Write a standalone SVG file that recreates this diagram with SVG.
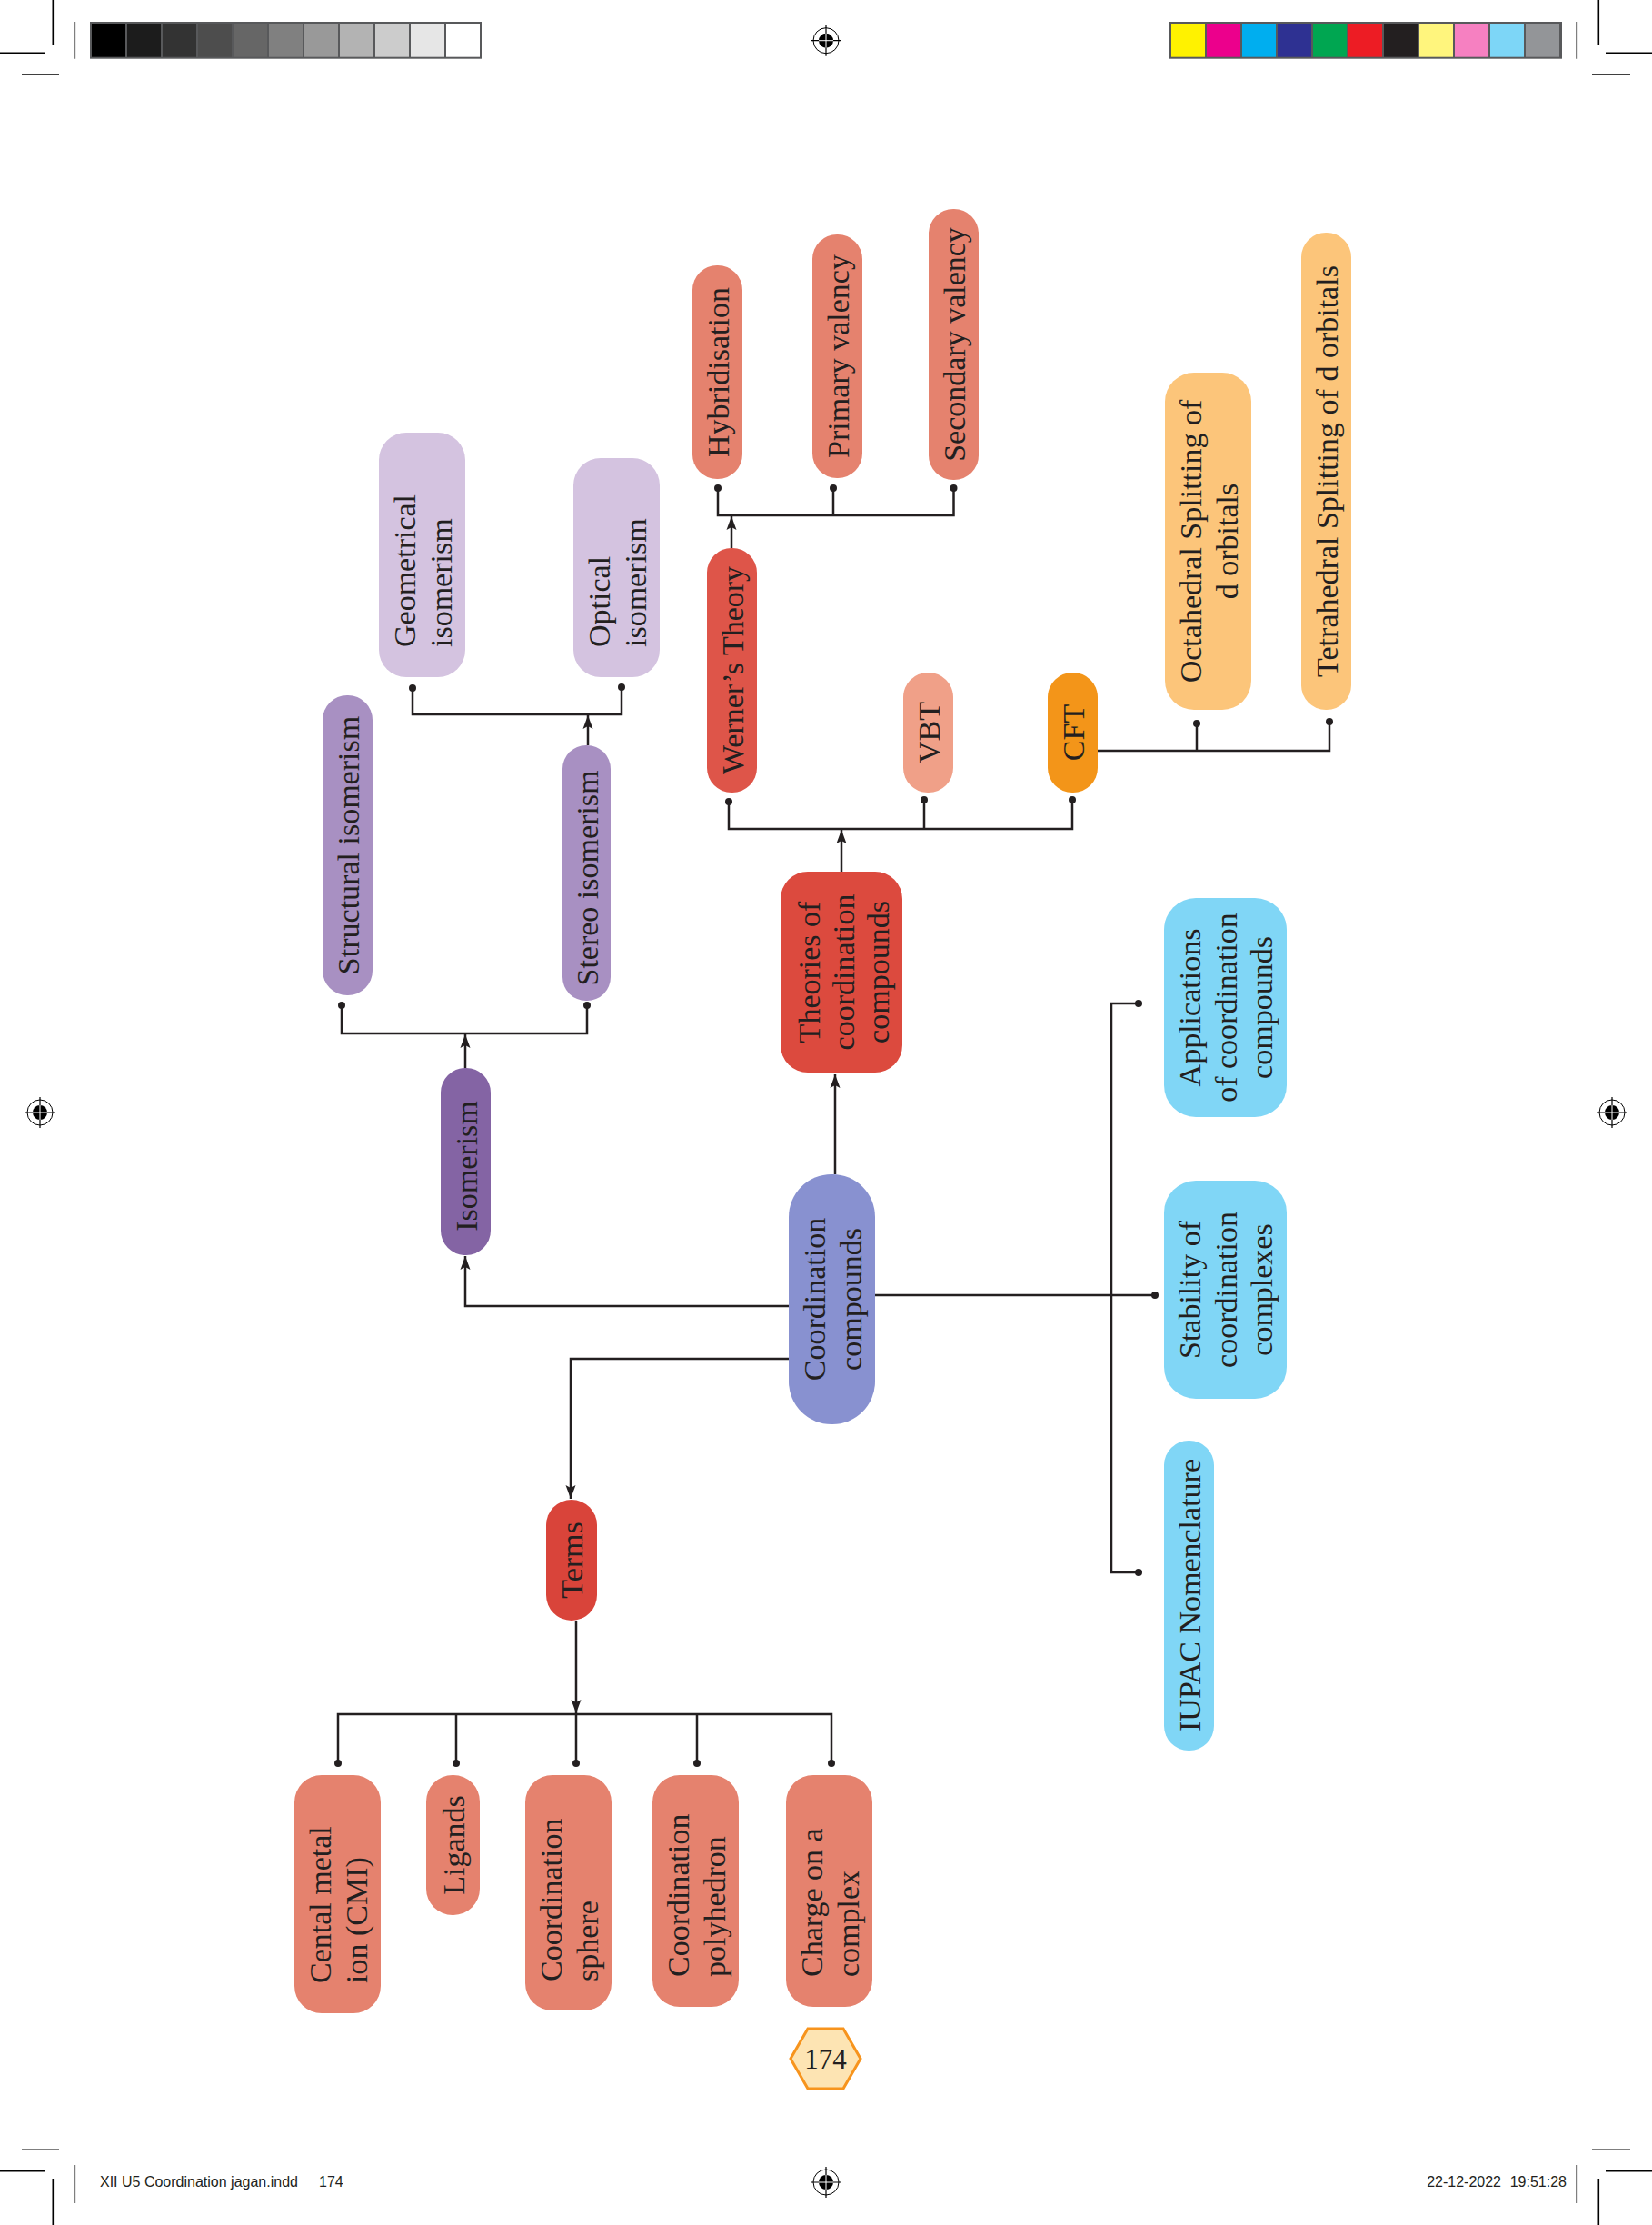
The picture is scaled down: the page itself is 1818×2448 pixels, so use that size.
<svg xmlns="http://www.w3.org/2000/svg" width="1818" height="2448" viewBox="0 0 1818 2448">
<style>
.t{font-family:"Liberation Serif","Times New Roman",serif;font-size:34px;fill:#231f20}
.s{text-anchor:start}
.m{text-anchor:middle}
.ln{stroke:#231f20;stroke-width:2.5;fill:none}
.mk{stroke:#000;stroke-width:1.6;fill:none}
.ft{font-family:"Liberation Sans",Arial,sans-serif;font-size:16px;fill:#231f20}
.salmon{fill:#e5826e}
.lav{fill:#d4c3e0}
.pur{fill:#a890c2}
.org{fill:#fcc57a}
.blue{fill:#80d6f6}
</style>
<defs>
<marker id="ah" markerUnits="userSpaceOnUse" markerWidth="16" markerHeight="12" refX="15" refY="6" orient="auto">
<path d="M0,0.5 L15,6 L0,11.5 L3,6 z" fill="#231f20"/>
</marker>
<g id="reg">
<circle r="14" fill="none" stroke="#000" stroke-width="1"/>
<circle r="8" fill="#000"/>
<path d="M-17,0 H17 M0,-17 V17" stroke="#000" stroke-width="1.2"/>
<path d="M-8,0 H8 M0,-8 V8" stroke="#fff" stroke-width="1"/>
</g>
</defs>

<g id="printmarks">
<path class="mk" d="M58.3,0 V50 M0,58.3 H50 M82.3,24 V64.7 M24,82 H65"/>
<path class="mk" d="M1759.3,0 V50 M1767,58.3 H1818 M1735.3,24 V64.7 M1752,82 H1794"/>
<path class="mk" d="M24,2365.3 H65 M0,2388.7 H50 M82.3,2382 V2424 M58.3,2397 V2448"/>
<path class="mk" d="M1752,2365.3 H1794 M1767,2388.7 H1818 M1735.3,2382 V2424 M1759.3,2397 V2448"/>
<use href="#reg" x="909" y="44.7"/>
<use href="#reg" x="44" y="1224"/>
<use href="#reg" x="1774" y="1224"/>
<use href="#reg" x="909" y="2401"/>
<rect x="99" y="24" width="431" height="40.7" fill="#58595b"/>
<rect x="101" y="26" width="37" height="36.7" fill="#000000"/>
<rect x="140" y="26" width="37" height="36.7" fill="#1c1c1c"/>
<rect x="179" y="26" width="37" height="36.7" fill="#333333"/>
<rect x="218" y="26" width="37" height="36.7" fill="#4d4d4d"/>
<rect x="257" y="26" width="37" height="36.7" fill="#666666"/>
<rect x="296" y="26" width="37" height="36.7" fill="#808080"/>
<rect x="335" y="26" width="37" height="36.7" fill="#999999"/>
<rect x="374" y="26" width="37" height="36.7" fill="#b3b3b3"/>
<rect x="413" y="26" width="37" height="36.7" fill="#cccccc"/>
<rect x="452" y="26" width="37" height="36.7" fill="#e6e6e6"/>
<rect x="491" y="26" width="37" height="36.7" fill="#ffffff"/>
<rect x="1287" y="24" width="432" height="40.7" fill="#58595b"/>
<rect x="1289" y="26" width="37" height="36.7" fill="#fff200"/>
<rect x="1328" y="26" width="37" height="36.7" fill="#ec008c"/>
<rect x="1367" y="26" width="37" height="36.7" fill="#00aeef"/>
<rect x="1406" y="26" width="37" height="36.7" fill="#2e3192"/>
<rect x="1445" y="26" width="37" height="36.7" fill="#00a651"/>
<rect x="1484" y="26" width="37" height="36.7" fill="#ed1c24"/>
<rect x="1523" y="26" width="37" height="36.7" fill="#231f20"/>
<rect x="1562" y="26" width="37" height="36.7" fill="#fff57d"/>
<rect x="1601" y="26" width="37" height="36.7" fill="#f680c1"/>
<rect x="1640" y="26" width="37" height="36.7" fill="#7dd6f7"/>
<rect x="1679" y="26" width="37" height="36.7" fill="#939598"/>
<text class="ft" x="110" y="2406">XII U5 Coordination jagan.indd</text>
<text class="ft" x="351" y="2406">174</text>
<text class="ft" x="1652" y="2406" text-anchor="end">22-12-2022</text>
<text class="ft" x="1724" y="2406" text-anchor="end">19:51:28</text>
</g>

<g id="connectors">
<path class="ln" d="M376,1106 V1137 H646 V1106"/>
<path class="ln" d="M512,1175 V1138" marker-end="url(#ah)"/>
<path class="ln" d="M454,757 V786 H684 V756"/>
<path class="ln" d="M647,820 V787" marker-end="url(#ah)"/>
<path class="ln" d="M868,1437 H512 V1382" marker-end="url(#ah)"/>
<path class="ln" d="M919,1292 V1182" marker-end="url(#ah)"/>
<path class="ln" d="M926,959 V913" marker-end="url(#ah)"/>
<path class="ln" d="M802,882 V912 H1180 V880 M1017,880 V912"/>
<path class="ln" d="M805,603 V568" marker-end="url(#ah)"/>
<path class="ln" d="M790,537 V567 H1049.5 V537 M917,537 V567"/>
<path class="ln" d="M1208,826 H1463 V794 M1317,826 V796"/>
<path class="ln" d="M963,1425 H1271 M1253,1104 H1223 V1730 H1253"/>
<path class="ln" d="M868,1495 H628 V1649" marker-end="url(#ah)"/>
<path class="ln" d="M634,1783 V1885" marker-end="url(#ah)"/>
<path class="ln" d="M372,1940 V1886 H915 V1940 M502,1886 V1940 M634,1886 V1940 M767,1886 V1940"/>
<g fill="#231f20">
<circle cx="376" cy="1106" r="4"/><circle cx="646" cy="1106" r="4"/>
<circle cx="454" cy="757" r="4"/><circle cx="684" cy="756" r="4"/>
<circle cx="802" cy="882" r="4"/><circle cx="1017" cy="880" r="4"/><circle cx="1180" cy="880" r="4"/>
<circle cx="790" cy="537" r="4"/><circle cx="917" cy="537" r="4"/><circle cx="1049.5" cy="537" r="4"/>
<circle cx="1317" cy="796" r="4"/><circle cx="1463" cy="794" r="4"/>
<circle cx="1253" cy="1104" r="4"/><circle cx="1271" cy="1425" r="4"/><circle cx="1253" cy="1730" r="4"/>
<circle cx="372" cy="1940" r="4"/><circle cx="502" cy="1940" r="4"/><circle cx="634" cy="1940" r="4"/><circle cx="767" cy="1940" r="4"/><circle cx="915" cy="1940" r="4"/>
</g>
</g>

<g id="geo"><rect class="lav" x="417" y="476" width="95" height="269" rx="30"/>
<text class="t s" transform="translate(464.5,712) rotate(-90)"><tspan x="0" y="-8">Geometrical</tspan><tspan x="0" y="32">isomerism</tspan></text></g>
<g id="opt"><rect class="lav" x="631" y="504" width="95" height="241" rx="30"/>
<text class="t s" transform="translate(678.5,712) rotate(-90)"><tspan x="0" y="-8">Optical</tspan><tspan x="0" y="32">isomerism</tspan></text></g>
<g id="hyb"><rect class="salmon" x="762" y="292" width="55" height="235" rx="27"/>
<text class="t m" transform="translate(789.5,409.5) rotate(-90)" y="12">Hybridisation</text></g>
<g id="prim"><rect class="salmon" x="894" y="258" width="55" height="268" rx="27"/>
<text class="t m" transform="translate(921.5,392) rotate(-90)" y="12">Primary valency</text></g>
<g id="sec"><rect class="salmon" x="1022" y="230" width="55" height="298" rx="27"/>
<text class="t m" transform="translate(1049.5,379) rotate(-90)" y="12">Secondary valency</text></g>
<g id="werner"><rect x="778" y="603" width="55" height="269" rx="27" fill="#de5549"/>
<text class="t m" transform="translate(805.5,737.5) rotate(-90)" y="12">Werner’s Theory</text></g>
<g id="vbt"><rect x="994" y="740" width="55" height="132" rx="27" fill="#f0a088"/>
<text class="t m" transform="translate(1021.5,806) rotate(-90)" y="12">VBT</text></g>
<g id="cft"><rect x="1153" y="740" width="55" height="132" rx="27" fill="#f39519"/>
<text class="t m" transform="translate(1180.5,806) rotate(-90)" y="12">CFT</text></g>
<g id="oct"><rect class="org" x="1282" y="410" width="95" height="371" rx="32"/>
<text class="t m" transform="translate(1329.5,595.5) rotate(-90)"><tspan x="0" y="-8">Octahedral Splitting of</tspan><tspan x="0" y="32">d orbitals</tspan></text></g>
<g id="tet"><rect class="org" x="1432" y="256" width="55" height="525" rx="27"/>
<text class="t m" transform="translate(1459.5,518.5) rotate(-90)" y="12">Tetrahedral Splitting of d orbitals</text></g>
<g id="struct"><rect class="pur" x="355" y="765" width="55" height="330" rx="27"/>
<text class="t m" transform="translate(382.5,930) rotate(-90)" y="12">Structural isomerism</text></g>
<g id="stereo"><rect class="pur" x="619" y="820" width="53" height="281" rx="26"/>
<text class="t m" transform="translate(645.5,966) rotate(-90)" y="12">Stereo isomerism</text></g>
<g id="iso"><rect x="485" y="1175" width="55" height="206" rx="27" fill="#8464a4"/>
<text class="t m" transform="translate(512.5,1283) rotate(-90)" y="12">Isomerism</text></g>
<g id="theories"><rect x="859" y="959" width="134" height="221" rx="30" fill="#dc4a3e"/>
<text class="t m" transform="translate(926,1069.5) rotate(-90)"><tspan x="0" y="-24">Theories of</tspan><tspan x="0" y="14">coordination</tspan><tspan x="0" y="52">compounds</tspan></text></g>
<g id="cc"><rect x="868" y="1292" width="95" height="275" rx="47" fill="#8891d0"/>
<text class="t m" transform="translate(915.5,1429.5) rotate(-90)"><tspan x="0" y="-8">Coordination</tspan><tspan x="0" y="32">compounds</tspan></text></g>
<g id="app"><rect class="blue" x="1281" y="988" width="135" height="241" rx="35"/>
<text class="t m" transform="translate(1348.5,1108.5) rotate(-90)"><tspan x="0" y="-28">Applications</tspan><tspan x="0" y="12">of coordination</tspan><tspan x="0" y="51">compounds</tspan></text></g>
<g id="stab"><rect class="blue" x="1281" y="1299" width="135" height="240" rx="35"/>
<text class="t m" transform="translate(1348.5,1419) rotate(-90)"><tspan x="0" y="-28">Stability of</tspan><tspan x="0" y="12">coordination</tspan><tspan x="0" y="51">complexes</tspan></text></g>
<g id="iupac"><rect class="blue" x="1281" y="1585" width="55" height="341" rx="27"/>
<text class="t m" transform="translate(1308.5,1755) rotate(-90)" y="12">IUPAC Nomenclature</text></g>
<g id="terms"><rect x="601" y="1650" width="56" height="133" rx="28" fill="#d9443a"/>
<text class="t m" transform="translate(629,1716.5) rotate(-90)" y="12">Terms</text></g>
<g id="cmi"><rect class="salmon" x="324" y="1953" width="95" height="262" rx="30"/>
<text class="t s" transform="translate(371.5,2182) rotate(-90)"><tspan x="0" y="-8">Cental metal</tspan><tspan x="0" y="32">ion (CMI)</tspan></text></g>
<g id="ligands"><rect class="salmon" x="469" y="1953" width="59" height="154" rx="29"/>
<text class="t m" transform="translate(498.5,2030) rotate(-90)" y="12">Ligands</text></g>
<g id="sphere"><rect class="salmon" x="578" y="1953" width="95" height="259" rx="30"/>
<text class="t s" transform="translate(625.5,2180) rotate(-90)"><tspan x="0" y="-8">Coordination</tspan><tspan x="0" y="32">sphere</tspan></text></g>
<g id="poly"><rect class="salmon" x="718" y="1953" width="95" height="255" rx="30"/>
<text class="t s" transform="translate(765.5,2175) rotate(-90)"><tspan x="0" y="-8">Coordination</tspan><tspan x="0" y="32">polyhedron</tspan></text></g>
<g id="charge"><rect class="salmon" x="865" y="1953" width="95" height="255" rx="30"/>
<text class="t s" transform="translate(912.5,2175) rotate(-90)"><tspan x="0" y="-8">Charge on a</tspan><tspan x="0" y="32">complex</tspan></text></g>
<g id="pagenum"><polygon points="870,2265 889,2232 928,2232 947,2265 928,2298 889,2298" fill="#fde4b3" stroke="#f7941d" stroke-width="3"/>
<text class="t m" x="908.5" y="2276" style="font-size:31px">174</text></g>
</svg>
